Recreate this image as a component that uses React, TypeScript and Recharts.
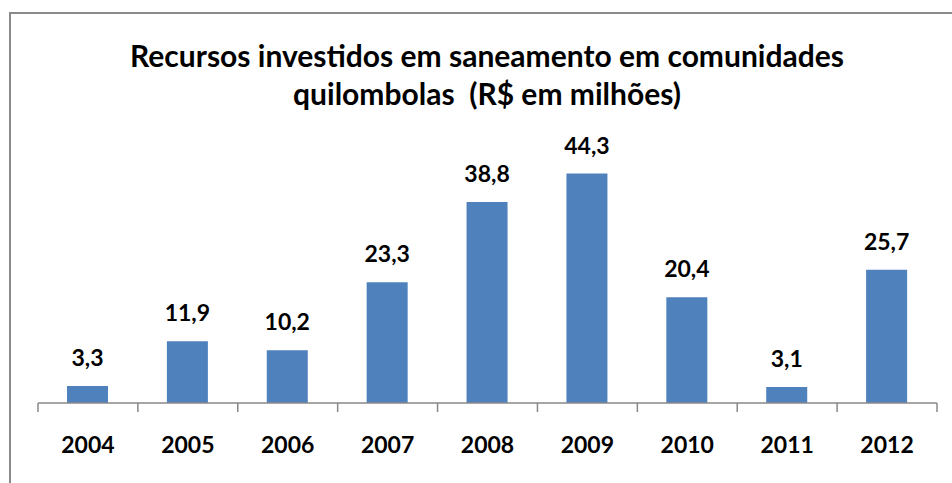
import { BarChart, Bar, XAxis, YAxis, LabelList } from 'recharts';

const years = ['2004', '2005', '2006', '2007', '2008', '2009', '2010', '2011', '2012'];
const values = [3.3, 11.9, 10.2, 23.3, 38.8, 44.3, 20.4, 3.1, 25.7];

const data = years.map((year, i) => ({ year, value: values[i] }));

const FONT = 'Lato, "Open Sans", sans-serif';
const AXIS = '#888';
const TICK_SIZE = 9;
const TICK_MARGIN = 25;

// year label plus a tick mark on the left edge of its band (and the right edge for the last one)
const YearTick = (props: any) => {
  const { x, y, payload, index } = props;
  const half = payload && payload.offset ? payload.offset : 0;
  const axisY = y - TICK_SIZE - TICK_MARGIN;
  const isLast = index === years.length - 1;
  return (
    <g>
      <line x1={x - half} x2={x - half} y1={axisY} y2={axisY + TICK_SIZE} stroke={AXIS} strokeWidth={1.5} />
      {isLast && (
        <line x1={x + half} x2={x + half} y1={axisY} y2={axisY + TICK_SIZE} stroke={AXIS} strokeWidth={1.5} />
      )}
      <text
        x={x}
        y={y}
        dy="0.71em"
        textAnchor="middle"
        fill="#000"
        fontSize={23}
        fontWeight={700}
        fontFamily={FONT}
      >
        {payload.value}
      </text>
    </g>
  );
};

export default function App() {
  return (
    <div style={{ position: 'absolute', left: 0, top: 0, width: 952, height: 483, background: '#fff', overflow: 'hidden' }}>
      {/* frame */}
      <div
        style={{
          position: 'absolute',
          left: 9,
          top: 12,
          width: 960,
          height: 500,
          border: '2px solid #8a8a8a',
          boxSizing: 'border-box',
        }}
      />
      {/* title */}
      <div
        style={{
          position: 'absolute',
          left: 87,
          width: 800,
          top: 36,
          textAlign: 'center',
          fontFamily: FONT,
          fontWeight: 700,
          fontSize: 30,
          lineHeight: '38px',
          color: '#000',
          whiteSpace: 'nowrap',
        }}
      >
        Recursos investidos em saneamento em comunidades
        <br />
        quilombolas&nbsp; (R$ em milhões)
      </div>
      <div style={{ position: 'absolute', left: 0, top: 0 }}>
        <BarChart
          width={952}
          height={483}
          data={data}
          margin={{ top: 144, right: 15, bottom: 0, left: 38 }}
          barSize={41}
        >
          <XAxis
            dataKey="year"
            axisLine={{ stroke: AXIS, strokeWidth: 1.5 }}
            tickLine={false}
            height={80}
            tickSize={TICK_SIZE}
            tickMargin={TICK_MARGIN}
            tick={<YearTick />}
            interval={0}
          />
          <YAxis hide domain={[0, 50]} />
          <Bar dataKey="value" fill="#4F81BD" isAnimationActive={false}>
            <LabelList
              dataKey="value"
              position="top"
              offset={20}
              formatter={(v: number) => v.toFixed(1).replace('.', ',')}
              style={{ fill: '#000', fontSize: 23, fontWeight: 700, fontFamily: FONT }}
            />
          </Bar>
        </BarChart>
      </div>
    </div>
  );
}
